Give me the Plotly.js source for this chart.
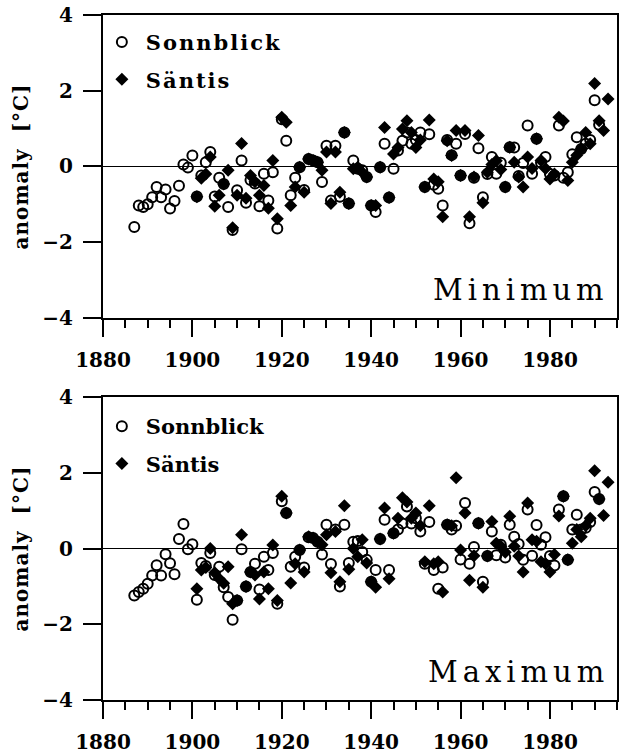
<!DOCTYPE html>
<html>
<head>
<meta charset="utf-8">
<script src="https://cdn.plot.ly/plotly-3.0.1.min.js"></script>
<style>
  html, body { margin: 0; padding: 0; background: #fff; }
  #chart { width: 628px; height: 754px; }
  .legendtext { letter-spacing: 2px; }
  .annotation-text { letter-spacing: 5px; }
  .ytitle, .y2title { letter-spacing: 1px; }
</style>
</head>
<body>
<div id="chart"></div>
<script>
// ---- data (annual anomalies, °C) ----
const sonnblickYears = [
  1887,1888,1889,
  1890,1891,1892,1893,1894,1895,1896,1897,1898,1899,
  1900,1901,1902,1903,1904,1905,1906,1907,1908,1909,
  1910,1911,1912,1913,1914,1915,1916,1917,1918,1919,
  1920,1921,1922,1923,1924,1925,1926,1927,1928,1929,
  1930,1931,1932,1933,1934,1935,1936,1937,1938,1939,
  1940,1941,1942,1943,1944,1945,1946,1947,1948,1949,
  1950,1951,1952,1953,1954,1955,1956,1957,1958,1959,
  1960,1961,1962,1963,1964,1965,1966,1967,1968,1969,
  1970,1971,1972,1973,1974,1975,1976,1977,1978,1979,
  1980,1981,1982,1983,1984,1985,1986,1987,1988,1989,
  1990,1991
];
const sonnblickMin = [
  -1.60,-1.03,-1.07,
  -1.00,-0.81,-0.54,-0.81,-0.61,-1.11,-0.91,-0.51,0.05,-0.03,
  0.29,-0.79,-0.24,0.11,0.38,-0.79,-0.30,-0.46,-1.07,-1.68,
  -0.63,0.16,-0.96,-0.36,-0.45,-1.05,-0.19,-0.90,-0.15,-1.64,
  1.25,0.68,-0.76,-0.30,-0.02,-0.62,0.20,0.16,0.11,-0.41,
  0.55,-0.90,0.55,-0.80,0.90,-0.98,0.16,-0.06,-0.10,-0.28,
  -1.03,-1.20,-0.02,0.60,-0.82,-0.06,0.42,0.68,0.90,0.60,
  0.70,0.90,-0.54,0.85,-0.48,-0.59,-1.03,0.70,0.30,0.60,
  -0.24,0.86,-1.50,-0.30,0.48,-0.81,-0.20,0.25,-0.19,0.10,
  -0.54,0.51,0.50,-0.25,0.09,1.08,-0.19,0.73,0.10,0.25,
  -0.20,-0.24,1.08,-0.30,-0.15,0.32,0.77,0.46,0.60,0.70,
  1.75,1.10
];
const sonnblickMax = [
  -1.24,-1.15,-1.06,
  -0.93,-0.71,-0.44,-0.71,-0.15,-0.39,-0.68,0.25,0.65,-0.02,
  0.11,-1.35,-0.38,-0.46,-0.12,-0.70,-0.48,-1.02,-1.28,-1.88,
  -1.37,-0.02,-1.00,-0.62,-0.40,-1.08,-0.22,-0.57,-0.12,-1.46,
  1.25,0.94,-0.48,-0.22,-0.04,-0.50,0.30,0.28,0.18,-0.16,
  0.63,-0.41,0.50,-1.00,0.63,-0.38,0.18,0.20,-0.09,-0.30,
  -0.88,-0.57,0.25,0.76,-0.57,0.40,0.50,0.66,1.11,0.66,
  0.80,0.45,-0.40,0.70,-0.57,-1.06,-0.50,0.63,0.50,0.60,
  -0.29,1.20,-0.40,0.04,0.67,-0.88,-0.20,0.45,-0.18,0.10,
  -0.24,0.63,0.31,0.12,-0.30,1.03,-0.19,0.62,0.10,0.30,
  -0.20,-0.45,1.03,1.38,-0.30,0.50,0.89,0.50,0.55,0.70,
  1.49,1.31
];
const saentisYears = [
  1901,1902,1903,1904,1905,1906,1907,1908,1909,
  1910,1911,1912,1913,1914,1915,1916,1917,1918,1919,
  1920,1921,1922,1923,1924,1925,1926,1927,1928,1929,
  1930,1931,1932,1933,1934,1935,1936,1937,1938,1939,
  1940,1941,1942,1943,1944,1945,1946,1947,1948,1949,
  1950,1951,1952,1953,1954,1955,1956,1957,1958,1959,
  1960,1961,1962,1963,1964,1965,1966,1967,1968,1969,
  1970,1971,1972,1973,1974,1975,1976,1977,1978,1979,
  1980,1981,1982,1983,1984,1985,1986,1987,1988,1989,
  1990,1991,1992,1993
];
const saentisMin = [
  -0.80,-0.31,-0.20,0.25,-1.05,-0.76,-0.46,-0.10,-1.62,
  -0.76,0.61,-0.84,-0.24,-0.40,-0.76,-0.50,-1.10,0.16,-1.38,
  1.30,1.17,-1.03,-0.54,-0.02,-0.68,0.20,0.16,0.11,-0.10,
  0.38,-0.98,0.38,-0.68,0.90,-0.98,-0.06,-0.02,-0.15,-0.28,
  -1.03,-1.03,-0.02,1.03,-0.82,0.33,0.50,0.99,1.21,0.90,
  0.50,0.70,-0.54,1.23,-0.33,-0.40,-1.33,0.68,0.29,0.95,
  -0.24,0.95,-1.33,-0.28,0.82,-0.96,-0.15,0.05,0.15,-0.08,
  -0.54,0.51,0.11,-0.28,-0.54,0.25,-0.05,0.73,0.16,-0.05,
  -0.33,-0.20,1.30,1.20,-0.37,0.11,0.30,0.46,0.90,0.60,
  2.19,1.21,0.95,1.78
];
const saentisMax = [
  -1.06,-0.57,-0.50,0.00,-0.64,-0.80,-0.92,-0.48,-1.46,
  -1.37,0.36,-1.00,-0.62,-0.70,-1.33,-0.62,-1.06,0.09,-1.37,
  1.38,0.94,-0.91,-0.40,-0.04,-0.62,0.31,0.28,0.18,0.10,
  0.36,-0.64,0.45,-0.88,1.13,-0.55,0.00,-0.22,0.23,-0.38,
  -0.88,-1.02,0.25,1.07,-0.80,0.40,0.80,1.34,1.23,0.80,
  0.94,0.60,-0.35,1.13,-0.40,-0.35,-1.15,0.63,0.60,1.87,
  -0.04,0.94,-0.84,-0.19,0.67,-1.02,-0.20,0.71,0.14,0.06,
  -0.10,0.85,0.06,-0.20,-0.62,1.20,0.23,0.19,-0.35,-0.40,
  -0.62,-0.16,0.86,1.38,-0.30,0.14,0.50,0.31,0.60,0.80,
  2.05,1.31,0.87,1.75
];
const seriesNames = ['Sonnblick', 'Säntis'];
const panelLabels = ['Minimum', 'Maximum'];
const xTicks = [1880, 1900, 1920, 1940, 1960, 1980];
const yTicks = [-4, -2, 0, 2, 4];
const yTitle = 'anomaly  [°C]';

// ---- styles ----
const FONT = 'DejaVu Serif';
const circleMarker = {symbol: 'circle-open', size: 10, color: '#000', line: {width: 2, color: '#000'}};
const diamondMarker = {symbol: 'diamond', size: 10, color: '#000', line: {width: 0}};

const traces = [
  {x: sonnblickYears, y: sonnblickMin, name: seriesNames[0], type: 'scatter', mode: 'markers',
   xaxis: 'x', yaxis: 'y', marker: circleMarker, legend: 'legend', legendgroup: 'a'},
  {x: saentisYears, y: saentisMin, name: seriesNames[1], type: 'scatter', mode: 'markers',
   xaxis: 'x', yaxis: 'y', marker: diamondMarker, legend: 'legend', legendgroup: 'b'},
  {x: sonnblickYears, y: sonnblickMax, name: seriesNames[0], type: 'scatter', mode: 'markers',
   xaxis: 'x2', yaxis: 'y2', marker: circleMarker, legend: 'legend2', legendgroup: 'c'},
  {x: saentisYears, y: saentisMax, name: seriesNames[1], type: 'scatter', mode: 'markers',
   xaxis: 'x2', yaxis: 'y2', marker: diamondMarker, legend: 'legend2', legendgroup: 'd'}
];

function xAxis(anchor) {
  return {
    anchor: anchor, domain: [0, 1], range: [1880, 1995],
    tickmode: 'array', tickvals: xTicks, ticktext: xTicks.map(String),
    ticks: 'outside', ticklen: 17, tickwidth: 2, tickcolor: '#000',
    minor: {tick0: 1880, dtick: 5, ticks: 'outside', ticklen: 8, tickwidth: 2, tickcolor: '#000', showgrid: false},
    ticklabelstandoff: 6,
    showline: true, linewidth: 2, linecolor: '#000', mirror: true,
    showgrid: false, zeroline: false,
    tickfont: {family: FONT, size: 20, color: '#000', weight: 'bold'}
  };
}
function yAxis(anchor, domain) {
  return {
    anchor: anchor, domain: domain, range: [-4, 4],
    tickmode: 'array', tickvals: yTicks,
    ticks: 'outside', ticklen: 18, tickwidth: 2, tickcolor: '#000',
    ticklabelstandoff: 6,
    showline: true, linewidth: 2, linecolor: '#000', mirror: true,
    showgrid: false, zeroline: true, zerolinecolor: '#000', zerolinewidth: 1.5,
    tickfont: {family: FONT, size: 20, color: '#000', weight: 'bold'},
    title: {text: yTitle, font: {family: FONT, size: 20, color: '#000', weight: 'bold'}, standoff: 8}
  };
}

const legendBase = {
  x: -0.01, xanchor: 'left', yanchor: 'top',
  bgcolor: 'rgba(0,0,0,0)', borderwidth: 0,
  font: {family: FONT, size: 21, color: '#000', weight: 'bold'},
  itemwidth: 38, traceorder: 'grouped', tracegroupgap: 7
};

const layout = {
  width: 628, height: 754,
  margin: {l: 103, r: 11, t: 15, b: 54},
  paper_bgcolor: '#fff', plot_bgcolor: '#fff',
  showlegend: true,
  xaxis: xAxis('y'),
  yaxis: yAxis('x', [0.5577, 1]),
  xaxis2: xAxis('y2'),
  yaxis2: yAxis('x2', [0, 0.4423]),
  legend: Object.assign({}, legendBase, {y: 0.990}),
  legend2: Object.assign({}, legendBase, {y: 0.4290}),
  annotations: [
    {text: panelLabels[0], xref: 'x domain', yref: 'y domain', x: 1, y: 0,
     xanchor: 'right', yanchor: 'bottom', xshift: -6, yshift: 9, showarrow: false,
     font: {family: FONT, size: 29, color: '#000'}},
    {text: panelLabels[1], xref: 'x2 domain', yref: 'y2 domain', x: 1, y: 0,
     xanchor: 'right', yanchor: 'bottom', xshift: -6, yshift: 9, showarrow: false,
     font: {family: FONT, size: 29, color: '#000'}}
  ]
};

Plotly.newPlot('chart', traces, layout, {displayModeBar: false, staticPlot: true});
</script>
</body>
</html>
